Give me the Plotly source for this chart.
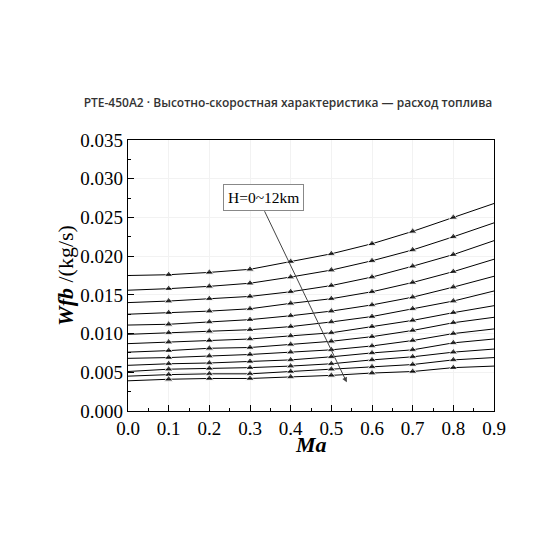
import plotly.graph_objects as go

ma = [0.0, 0.1, 0.2, 0.3, 0.4, 0.5, 0.6, 0.7, 0.8, 0.9]
altitudes_km = list(range(13))

wfb_h0 = [0.0175, 0.0176, 0.0179, 0.0183, 0.0193, 0.0203, 0.0216, 0.0232, 0.0250, 0.0268]
wfb_h1 = [0.0156, 0.0158, 0.0161, 0.0165, 0.0173, 0.0182, 0.0194, 0.0208, 0.0225, 0.0243]
wfb_h2 = [0.0140, 0.0142, 0.0145, 0.0148, 0.0154, 0.0162, 0.0173, 0.0187, 0.0202, 0.0220]
wfb_h3 = [0.0125, 0.0127, 0.0129, 0.0132, 0.0139, 0.0145, 0.0154, 0.0166, 0.0180, 0.0196]
wfb_h4 = [0.0111, 0.0112, 0.0115, 0.0118, 0.0123, 0.0129, 0.0137, 0.0147, 0.0160, 0.0174]
wfb_h5 = [0.0099, 0.0101, 0.0103, 0.0105, 0.0109, 0.0115, 0.0122, 0.0132, 0.0142, 0.0155]
wfb_h6 = [0.0087, 0.0089, 0.0091, 0.0093, 0.0097, 0.0101, 0.0109, 0.0117, 0.0127, 0.0136]
wfb_h7 = [0.0076, 0.0078, 0.0081, 0.0082, 0.0086, 0.0090, 0.0096, 0.0104, 0.0114, 0.0121]
wfb_h8 = [0.0068, 0.0069, 0.0071, 0.0073, 0.0076, 0.0079, 0.0084, 0.0091, 0.0100, 0.0106]
wfb_h9 = [0.0059, 0.0061, 0.0062, 0.0064, 0.0066, 0.0070, 0.0075, 0.0079, 0.0088, 0.0093]
wfb_h10 = [0.0051, 0.0054, 0.0055, 0.0056, 0.0058, 0.0061, 0.0066, 0.0070, 0.0076, 0.0080]
wfb_h11 = [0.0045, 0.0047, 0.0048, 0.0048, 0.0051, 0.0054, 0.0057, 0.0060, 0.0066, 0.0069]
wfb_h12 = [0.0039, 0.0041, 0.0042, 0.0042, 0.0044, 0.0046, 0.0049, 0.0051, 0.0056, 0.0058]

series = [wfb_h0, wfb_h1, wfb_h2, wfb_h3, wfb_h4, wfb_h5, wfb_h6,
          wfb_h7, wfb_h8, wfb_h9, wfb_h10, wfb_h11, wfb_h12]

x_ticks = [0.0, 0.1, 0.2, 0.3, 0.4, 0.5, 0.6, 0.7, 0.8, 0.9]
y_ticks = [0.000, 0.005, 0.010, 0.015, 0.020, 0.025, 0.030, 0.035]

title_text = "PTE-450A2 · Высотно-скоростная характеристика — расход топлива"
annot_text = "H=0~12km"
x_title = "<b><i>Ma</i></b>"
y_title = "<b><i>Wfb</i></b> /(kg/s)"

marker_sizes = [0] + [7.5] * (len(ma) - 2) + [0]

fig = go.Figure()
for h, vals in zip(altitudes_km, series):
    fig.add_trace(go.Scatter(
        x=ma, y=vals, mode="lines+markers", name=f"H={h}km",
        line=dict(color="black", width=1),
        marker=dict(symbol="triangle-up", size=marker_sizes, color="black"),
        showlegend=False,
    ))

serif = "Liberation Serif, Times New Roman, serif"

fig.update_layout(
    width=560, height=560,
    paper_bgcolor="white", plot_bgcolor="white",
    margin=dict(l=120, r=74, t=132, b=156.5),
    title=dict(text=title_text, x=0.5, xanchor="center", y=1 - 95 / 560, yanchor="middle",
               font=dict(family="Open Sans, Noto Sans, sans-serif", size=12, color="#333333", weight=600)),
    font=dict(family=serif, color="black"),
)

fig.update_xaxes(
    range=[0, 0.9], tickvals=x_ticks, tickformat=".1f",
    ticks="inside", ticklen=6, tickwidth=1, tickcolor="black",
    minor=dict(ticks="inside", ticklen=3, tickcolor="black", dtick=0.05, showgrid=False),
    showline=True, linecolor="black", linewidth=1.2, mirror=True,
    showgrid=True, gridcolor="#f2f2f2", zeroline=False,
    tickfont=dict(family=serif, size=19, color="black"),
)
fig.update_yaxes(
    range=[0, 0.035], tickvals=y_ticks, tickformat=".3f",
    ticks="inside", ticklen=6, tickwidth=1, tickcolor="black",
    minor=dict(ticks="inside", ticklen=3, tickcolor="black", dtick=0.0025, showgrid=False),
    showline=True, linecolor="black", linewidth=1.2, mirror=True,
    showgrid=True, gridcolor="#f2f2f2", zeroline=False,
    tickfont=dict(family=serif, size=19, color="black"),
    title=dict(text=y_title, font=dict(family=serif, size=22, color="black"), standoff=0),
)

# x-axis title placed close to the tick labels
fig.add_annotation(
    x=0.5, y=-0.123, xref="paper", yref="paper", text=x_title, showarrow=False,
    yanchor="middle", font=dict(family=serif, size=22, color="black"),
)

# arrow
fig.add_annotation(
    x=0.538, y=0.0037, ax=0.334, ay=0.0260, xref="x", yref="y", axref="x", ayref="y",
    text="", showarrow=True, arrowhead=2, arrowsize=1, arrowwidth=1, arrowcolor="#444444",
)
# text box
fig.add_annotation(
    x=0.334, y=0.02752, xref="x", yref="y", text=annot_text, showarrow=False,
    font=dict(family=serif, size=15.5, color="black"),
    bordercolor="#888888", borderwidth=1, borderpad=4, bgcolor="white",
)

fig.write_html("out.html")
